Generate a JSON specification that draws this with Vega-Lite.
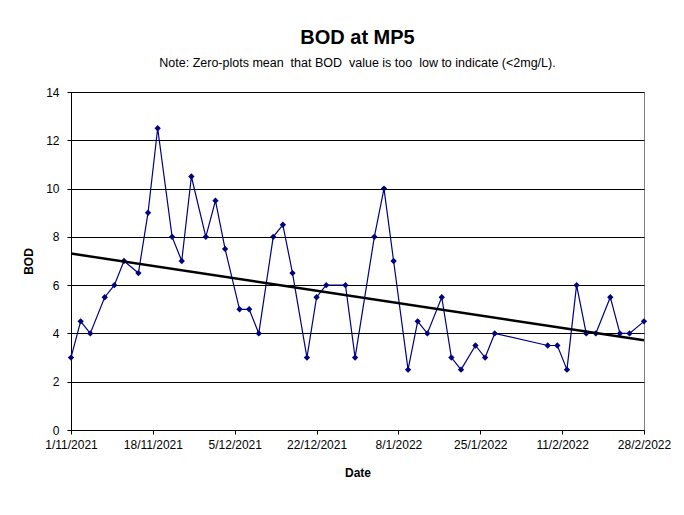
{
  "$schema": "https://vega.github.io/schema/vega-lite/v6.json",
  "width": 573,
  "height": 338,
  "autosize": "none",
  "padding": {"left": 71, "top": 92, "right": 40, "bottom": 85},
  "background": "white",
  "title": {
    "text": "BOD at MP5",
    "subtitle": "Note: Zero-plots mean\u00a0 that BOD\u00a0 value is too\u00a0 low to indicate (<2mg/L).",
    "anchor": "middle",
    "font": "Liberation Sans",
    "fontSize": 20,
    "fontWeight": "bold",
    "color": "black",
    "subtitleFont": "Liberation Sans",
    "subtitleFontSize": 12.5,
    "subtitleColor": "black",
    "subtitlePadding": 9,
    "offset": 17
  },
  "data": {
    "format": {"parse": {"date": "utc:'%Y-%m-%d'"}},
    "values": [
      {"date": "2021-11-01", "BOD": 3},
      {"date": "2021-11-03", "BOD": 4.5},
      {"date": "2021-11-05", "BOD": 4},
      {"date": "2021-11-08", "BOD": 5.5},
      {"date": "2021-11-10", "BOD": 6},
      {"date": "2021-11-12", "BOD": 7},
      {"date": "2021-11-15", "BOD": 6.5},
      {"date": "2021-11-17", "BOD": 9},
      {"date": "2021-11-19", "BOD": 12.5},
      {"date": "2021-11-22", "BOD": 8},
      {"date": "2021-11-24", "BOD": 7},
      {"date": "2021-11-26", "BOD": 10.5},
      {"date": "2021-11-29", "BOD": 8},
      {"date": "2021-12-01", "BOD": 9.5},
      {"date": "2021-12-03", "BOD": 7.5},
      {"date": "2021-12-06", "BOD": 5},
      {"date": "2021-12-08", "BOD": 5},
      {"date": "2021-12-10", "BOD": 4},
      {"date": "2021-12-13", "BOD": 8},
      {"date": "2021-12-15", "BOD": 8.5},
      {"date": "2021-12-17", "BOD": 6.5},
      {"date": "2021-12-20", "BOD": 3},
      {"date": "2021-12-22", "BOD": 5.5},
      {"date": "2021-12-24", "BOD": 6},
      {"date": "2021-12-28", "BOD": 6},
      {"date": "2021-12-30", "BOD": 3},
      {"date": "2022-01-03", "BOD": 8},
      {"date": "2022-01-05", "BOD": 10},
      {"date": "2022-01-07", "BOD": 7},
      {"date": "2022-01-10", "BOD": 2.5},
      {"date": "2022-01-12", "BOD": 4.5},
      {"date": "2022-01-14", "BOD": 4},
      {"date": "2022-01-17", "BOD": 5.5},
      {"date": "2022-01-19", "BOD": 3},
      {"date": "2022-01-21", "BOD": 2.5},
      {"date": "2022-01-24", "BOD": 3.5},
      {"date": "2022-01-26", "BOD": 3},
      {"date": "2022-01-28", "BOD": 4},
      {"date": "2022-02-08", "BOD": 3.5},
      {"date": "2022-02-10", "BOD": 3.5},
      {"date": "2022-02-12", "BOD": 2.5},
      {"date": "2022-02-14", "BOD": 6},
      {"date": "2022-02-16", "BOD": 4},
      {"date": "2022-02-18", "BOD": 4},
      {"date": "2022-02-21", "BOD": 5.5},
      {"date": "2022-02-23", "BOD": 4},
      {"date": "2022-02-25", "BOD": 4},
      {"date": "2022-02-28", "BOD": 4.5}
    ]
  },
  "encoding": {
    "x": {
      "field": "date",
      "type": "temporal",
      "scale": {
        "type": "utc",
        "domain": [
          {"year": 2021, "month": 11, "date": 1, "utc": true},
          {"year": 2022, "month": 2, "date": 28, "utc": true}
        ]
      },
      "axis": {
        "title": "Date",
        "values": [
          {"year": 2021, "month": 11, "date": 1, "utc": true},
          {"year": 2021, "month": 11, "date": 18, "utc": true},
          {"year": 2021, "month": 12, "date": 5, "utc": true},
          {"year": 2021, "month": 12, "date": 22, "utc": true},
          {"year": 2022, "month": 1, "date": 8, "utc": true},
          {"year": 2022, "month": 1, "date": 25, "utc": true},
          {"year": 2022, "month": 2, "date": 11, "utc": true},
          {"year": 2022, "month": 2, "date": 28, "utc": true}
        ],
        "labelExpr": "utcFormat(datum.value, '%-d/%-m/%Y')",
        "grid": false,
        "labelFlush": false,
        "labelOverlap": false,
        "labelPadding": 5,
        "titlePadding": 17
      }
    },
    "y": {
      "field": "BOD",
      "type": "quantitative",
      "scale": {"domain": [0, 14], "nice": false, "zero": true},
      "axis": {
        "title": "BOD",
        "values": [0, 2, 4, 6, 8, 10, 12, 14],
        "grid": true,
        "gridColor": "black",
        "gridOpacity": 1,
        "gridWidth": 1,
        "labelPadding": 8,
        "titlePadding": 10
      }
    }
  },
  "layer": [
    {
      "mark": {
        "type": "line",
        "color": "#000080",
        "strokeWidth": 1.2,
        "point": {"shape": "diamond", "filled": true, "size": 40, "color": "#000080"}
      }
    },
    {
      "transform": [{"regression": "BOD", "on": "date"}],
      "mark": {"type": "line", "color": "black", "strokeWidth": 2.5}
    }
  ],
  "config": {
    "font": "Liberation Sans",
    "view": {"stroke": "#808080", "strokeWidth": 1},
    "axis": {
      "domainColor": "black",
      "domainWidth": 1,
      "tickColor": "black",
      "tickSize": 4,
      "labelColor": "black",
      "labelFont": "Liberation Sans",
      "labelFontSize": 12,
      "titleColor": "black",
      "titleFont": "Liberation Sans",
      "titleFontSize": 12,
      "titleFontWeight": "bold"
    }
  }
}
